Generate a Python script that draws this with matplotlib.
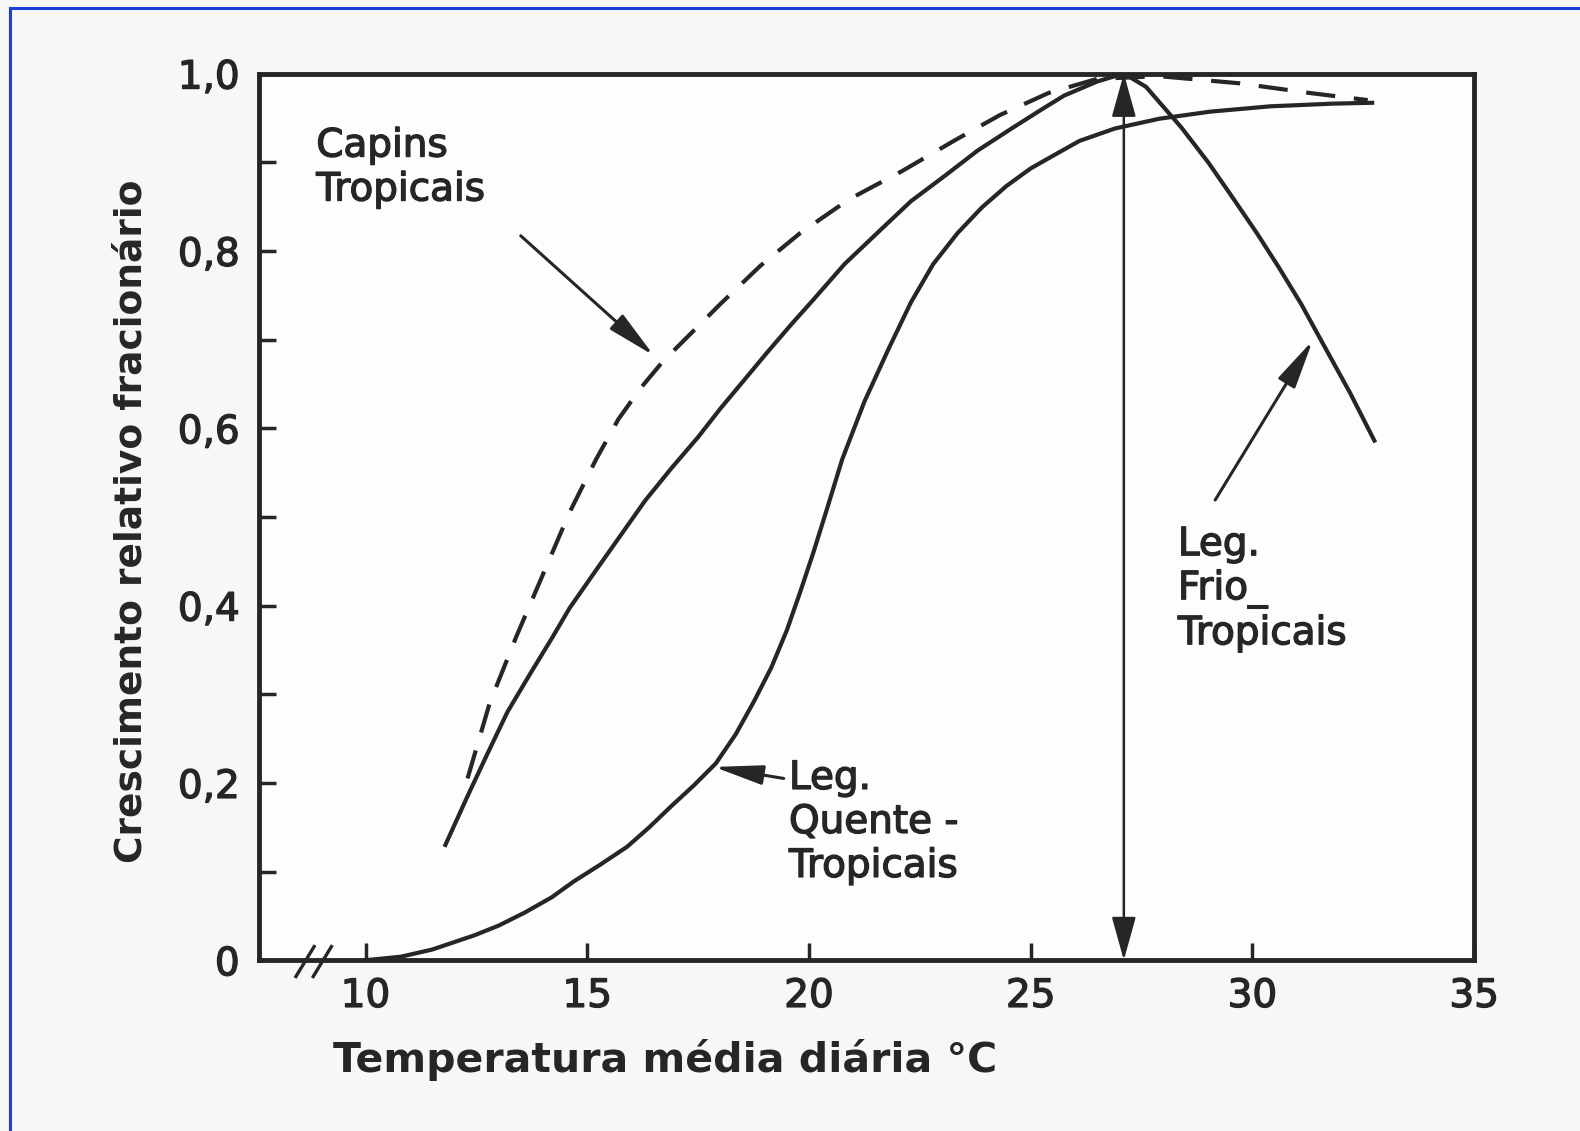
import matplotlib.pyplot as plt
import matplotlib.patheffects as pe
from matplotlib.lines import Line2D

# Crescimento relativo x temperatura média diária
capins_temp = [12.3, 12.8, 13.4, 14.0, 14.6, 15.2, 15.7, 16.2, 16.7, 17.3, 18.0, 18.9,
               19.8, 20.9, 22.1, 23.3, 24.3, 25.4, 26.5, 27.9, 29.7, 31.3, 32.6]
capins_cresc = [0.205, 0.29, 0.365, 0.435, 0.505, 0.565, 0.61, 0.645, 0.675, 0.705, 0.74, 0.783,
                0.82, 0.858, 0.89, 0.925, 0.953, 0.978, 0.994, 0.997, 0.989, 0.978, 0.97]

frio_temp = [11.8, 12.3, 12.75, 13.2, 13.7, 14.2, 14.6, 15.2, 15.75, 16.3, 16.9, 17.5, 18.0,
             18.5, 19.05, 19.6, 20.1, 20.8, 21.6, 22.3, 23.1, 23.8, 24.6, 25.2, 25.75, 26.5,
             27.1, 27.6, 28.0, 28.4, 29.0, 29.5, 30.1, 30.6, 31.1, 31.55, 32.2, 32.75]
frio_cresc = [0.13, 0.185, 0.233, 0.28, 0.322, 0.363, 0.397, 0.44, 0.479, 0.518, 0.555, 0.59, 0.622,
              0.652, 0.685, 0.717, 0.745, 0.785, 0.823, 0.856, 0.886, 0.913, 0.939, 0.958, 0.975, 0.991,
              1.0, 0.985, 0.962, 0.939, 0.90, 0.864, 0.82, 0.781, 0.74, 0.699, 0.64, 0.586]

quente_temp = [10.0, 10.8, 11.5, 12.45, 13.0, 13.6, 14.2, 14.7, 15.3, 15.9, 16.4, 16.9, 17.4,
               17.9, 18.35, 18.75, 19.15, 19.5, 19.8, 20.1, 20.4, 20.75, 21.25, 21.8, 22.3,
               22.8, 23.35, 23.9, 24.45, 25.0, 25.6, 26.1, 26.9, 27.9, 29.05, 30.4, 31.8, 32.7]
quente_cresc = [0.0, 0.004, 0.012, 0.028, 0.039, 0.054, 0.071, 0.089, 0.108, 0.128, 0.15, 0.174, 0.197,
                0.222, 0.255, 0.291, 0.33, 0.372, 0.415, 0.46, 0.508, 0.565, 0.63, 0.69, 0.742,
                0.785, 0.82, 0.849, 0.873, 0.893, 0.91, 0.924, 0.938, 0.949, 0.957, 0.963, 0.966, 0.967]

temp_pico = 27.1  # temperatura ótima marcada pela seta vertical

x_ticks = [10, 15, 20, 25, 30, 35]
y_ticks = [0, 0.2, 0.4, 0.6, 0.8, 1.0]
y_tick_labels = ['0', '0,2', '0,4', '0,6', '0,8', '1,0']

ink = '#262626'
plt.rcParams['font.family'] = ['DejaVu Sans']
medium = [pe.withStroke(linewidth=1.0, foreground=ink)]

fig = plt.figure(figsize=(15.8, 11.31), dpi=100)
fig.patch.set_facecolor('#f7f7f7')
ax = fig.add_axes([0.164, 0.151, 0.769, 0.784])
ax.set_facecolor('#fdfdfd')

ax.plot(capins_temp, capins_cresc, color=ink, lw=3.0, dashes=(7, 4.5))
ax.plot(frio_temp, frio_cresc, color=ink, lw=3.0, solid_joinstyle='round')
ax.plot(quente_temp, quente_cresc, color=ink, lw=3.0, solid_joinstyle='round')

# seta dupla na temperatura ótima
ax.annotate('', xy=(temp_pico, 1.0), xytext=(temp_pico, 0.0),
            arrowprops=dict(arrowstyle='<|-|>,head_length=0.9,head_width=0.25',
                            mutation_scale=30, lw=1.8, color=ink,
                            shrinkA=0, shrinkB=0))

arrow_kw = dict(arrowstyle='-|>,head_length=1.0,head_width=0.2',
                mutation_scale=30, lw=2.2, color=ink, shrinkA=0, shrinkB=0)
label_kw = dict(fontsize=28, color=ink, ha='left', va='center', linespacing=1.2,
                path_effects=medium)

ax.text(8.89, 0.894, 'Capins\nTropicais', **label_kw)
ax.annotate('', xy=(16.5, 0.682), xytext=(13.5, 0.817), arrowprops=arrow_kw)

ax.text(19.55, 0.156, 'Leg.\nQuente -\nTropicais', **label_kw)
ax.annotate('', xy=(17.86, 0.218), xytext=(19.43, 0.205), arrowprops=arrow_kw)

ax.text(28.32, 0.419, 'Leg.\nFrio_\nTropicais', **label_kw)
ax.annotate('', xy=(31.36, 0.699), xytext=(29.16, 0.519), arrowprops=arrow_kw)

# quebra do eixo x
for x0 in (8.41, 8.80):
    ax.plot([x0, x0 + 0.45], [-0.02, 0.017], color=ink, lw=2.4,
            clip_on=False, solid_capstyle='butt')

ax.set_xlim(7.6, 35.0)
ax.set_ylim(0, 1.0)
ax.set_xticks(x_ticks)
ax.set_xticklabels([str(t) for t in x_ticks])
ax.set_yticks(y_ticks)
ax.set_yticklabels(y_tick_labels)
ax.set_yticks([0.1, 0.3, 0.5, 0.7, 0.9], minor=True)
ax.tick_params(direction='in', length=12, width=2.5, labelsize=28, colors=ink)
ax.tick_params(axis='x', pad=12)
ax.tick_params(axis='y', pad=14)
ax.tick_params(which='minor', direction='in', length=12, width=2.5, color=ink)
for lab in ax.get_xticklabels() + ax.get_yticklabels():
    lab.set_path_effects(medium)
for s in ax.spines.values():
    s.set_linewidth(3.5)
    s.set_color(ink)

fig.text(0.421, 0.063, 'Temperatura média diária °C', fontsize=29.5,
         fontweight='bold', color=ink, ha='center', va='center')
fig.text(0.0835, 0.539, 'Crescimento relativo fracionário', fontsize=27,
         fontweight='bold', color=ink, ha='center', va='center', rotation=90)

# moldura azul (lados esquerdo e superior)
blue = '#1d3fd8'
fig.add_artist(Line2D([0.0065, 0.0065], [0.0, 0.993], transform=fig.transFigure,
                      color=blue, lw=2.2))
fig.add_artist(Line2D([0.0065, 1.0], [0.993, 0.993], transform=fig.transFigure,
                      color=blue, lw=2.2))

fig.savefig('out.png', dpi=100, facecolor=fig.get_facecolor())
